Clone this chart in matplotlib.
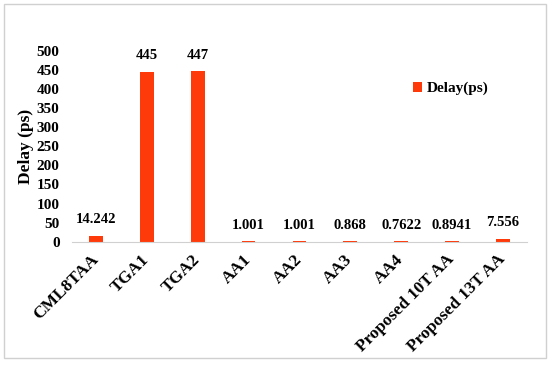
import numpy as np
import matplotlib.pyplot as plt
from matplotlib.patches import Rectangle

categories = ['CML8TAA', 'TGA1', 'TGA2', 'AA1', 'AA2', 'AA3', 'AA4',
              'Proposed 10T AA', 'Proposed 13T AA']
delay = [14.242, 445, 447, 1.001, 1.001, 0.868, 0.7622, 0.8941, 7.556]
value_labels = ['14.242', '445', '447', '1.001', '1.001', '0.868', '0.7622', '0.8941', '7.556']
yticks = list(range(0, 501, 50))

plt.rcParams['font.family'] = ['Liberation Serif', 'DejaVu Serif']
plt.rcParams['font.weight'] = 'bold'

fig = plt.figure(figsize=(5.5, 3.65), dpi=100)
fig.patches.append(Rectangle((0.008, 0.02), 0.984, 0.968, transform=fig.transFigure,
                             fill=False, edgecolor='#d0d0d0', linewidth=1))
ax = fig.add_axes([0.131, 0.338, 0.827, 0.522])

x = np.arange(len(categories))
bars = ax.bar(x, delay, width=0.27, color='#ff3a0a', linewidth=0, label='Delay(ps)')
ax.bar_label(bars, labels=value_labels, padding=7, fontsize=10.5, fontweight='bold')

ax.set_xlim(-0.47, len(categories) - 0.53)
ax.set_ylim(0, 500)
ax.set_yticks(yticks)
ax.set_xticks(x)
ax.set_xticklabels(categories, rotation=45, ha='right', va='center', rotation_mode='anchor',
                   fontsize=12.5, fontweight='bold')
ax.tick_params(axis='y', length=0, labelsize=11, pad=9)
ax.tick_params(axis='x', length=0, pad=11)
for s in ['top', 'right', 'left']:
    ax.spines[s].set_visible(False)
ax.spines['bottom'].set_color('#d0d0d0')
ax.set_ylabel('Delay (ps)', fontsize=12.5, fontweight='bold', labelpad=2)

leg = ax.legend(loc='upper left', bbox_to_anchor=(0.72, 0.91), frameon=False,
                fontsize=11, handlelength=0.6, handleheight=0.6, handletextpad=0.3)

fig.savefig('out.png', dpi=100)
